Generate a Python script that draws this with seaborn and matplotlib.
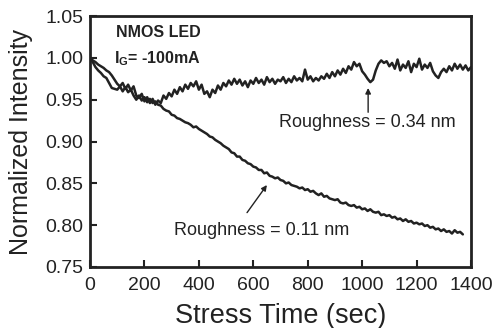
import matplotlib
matplotlib.use("Agg")
import matplotlib.pyplot as plt
import seaborn as sns

#####----- DATA
# Roughness = 0.34 nm, sampled every 10 s from 0 to 1400 s
intensity_034 = [
    1.000, 0.997, 0.995, 0.992, 0.990, 0.988, 0.985, 0.983, 0.979, 0.974,
    0.969, 0.966, 0.970, 0.963, 0.968, 0.961, 0.966, 0.955, 0.952, 0.957,
    0.948, 0.953, 0.946, 0.951, 0.944, 0.949, 0.946, 0.955, 0.951, 0.958,
    0.954, 0.962, 0.957, 0.965, 0.960, 0.968, 0.963, 0.970, 0.966, 0.972,
    0.962, 0.968, 0.957, 0.960, 0.953, 0.962, 0.958, 0.967, 0.962, 0.970,
    0.966, 0.973, 0.968, 0.975, 0.969, 0.974, 0.967, 0.972, 0.965, 0.973,
    0.969, 0.976, 0.970, 0.974, 0.968, 0.977, 0.971, 0.975, 0.969, 0.974,
    0.972, 0.977, 0.970, 0.975, 0.971, 0.978, 0.973, 0.976, 0.972, 0.986,
    0.974, 0.978, 0.972, 0.976, 0.973, 0.978, 0.975, 0.981, 0.976, 0.983,
    0.978, 0.985, 0.980, 0.987, 0.982, 0.990, 0.986, 0.995, 0.990, 0.993,
    0.984, 0.980, 0.975, 0.971, 0.974, 0.985, 0.993, 0.997, 0.994, 0.996,
    0.990, 0.994, 0.987, 0.998, 0.985, 0.992, 0.988, 0.996, 0.983, 0.993,
    0.989, 0.999, 0.986, 0.992, 0.988, 0.994, 0.984, 0.979, 0.976, 0.983,
    0.987, 0.983, 0.990, 0.985, 0.993, 0.987, 0.992, 0.986, 0.991, 0.985,
    0.989,
]
time_034 = list(range(0, 1410, 10))

# Roughness = 0.11 nm, sampled every 10 s from 0 to 1370 s
intensity_011 = [
    1.000, 0.995, 0.989, 0.985, 0.982, 0.978, 0.976, 0.970, 0.964, 0.963,
    0.962, 0.966, 0.960, 0.965, 0.959, 0.962, 0.955, 0.950, 0.955, 0.949,
    0.953, 0.947, 0.951, 0.946, 0.948, 0.944, 0.943, 0.939, 0.937, 0.936,
    0.932, 0.931, 0.928, 0.927, 0.925, 0.923, 0.922, 0.920, 0.917, 0.918,
    0.915, 0.913, 0.911, 0.909, 0.906, 0.905, 0.902, 0.900, 0.898, 0.895,
    0.893, 0.891, 0.887, 0.886, 0.882, 0.882, 0.878, 0.877, 0.874, 0.873,
    0.870, 0.869, 0.866, 0.866, 0.862, 0.863, 0.859, 0.858, 0.856, 0.857,
    0.854, 0.853, 0.850, 0.851, 0.848, 0.847, 0.846, 0.844, 0.845, 0.842,
    0.843, 0.840, 0.841, 0.838, 0.836, 0.838, 0.834, 0.835, 0.832, 0.831,
    0.830, 0.831, 0.827, 0.826, 0.827, 0.824, 0.823, 0.824, 0.821, 0.822,
    0.819, 0.820, 0.817, 0.819, 0.816, 0.815, 0.816, 0.812, 0.813, 0.811,
    0.812, 0.809, 0.810, 0.807, 0.808, 0.805, 0.807, 0.804, 0.805, 0.802,
    0.803, 0.801, 0.802, 0.799, 0.800, 0.797, 0.798, 0.795, 0.796, 0.793,
    0.795, 0.792, 0.793, 0.790, 0.794, 0.791, 0.792, 0.789,
]
time_011 = list(range(0, 1380, 10))

x_ticks = [0, 200, 400, 600, 800, 1000, 1200, 1400]
y_ticks = [0.75, 0.80, 0.85, 0.90, 0.95, 1.00, 1.05]

#####----- PLOT
sns.set_style("ticks")
plt.rcParams['font.family'] = ['Liberation Sans', 'DejaVu Sans']
plt.rcParams['mathtext.fontset'] = 'custom'
plt.rcParams['mathtext.rm'] = 'Liberation Sans:bold'

ink = '#222222'
fig, ax = plt.subplots(figsize=(4.96, 3.28), dpi=100)
fig.subplots_adjust(left=0.1815, right=0.9496, bottom=0.186, top=0.951)

sns.lineplot(x=time_034, y=intensity_034, color=ink, linewidth=1.8, ax=ax)
sns.lineplot(x=time_011, y=intensity_011, color=ink, linewidth=1.8, ax=ax)

ax.set_xlim(0, 1400)
ax.set_ylim(0.75, 1.05)
ax.set_xticks(x_ticks)
ax.set_yticks(y_ticks)
ax.set_yticklabels([f"{v:.2f}" for v in y_ticks])
ax.tick_params(direction='in', length=5, width=1.5, labelsize=14, colors=ink)
ax.tick_params(axis='x', pad=7)
ax.tick_params(axis='y', pad=5)
for side in ax.spines.values():
    side.set_linewidth(2)
    side.set_color(ink)

ax.set_xlabel('Stress Time (sec)', fontsize=19.5, labelpad=7, color=ink)
ax.set_ylabel('Normalized Intensity', fontsize=18, labelpad=9, color=ink)

ax.text(96, 1.030, 'NMOS LED', fontsize=11.5, fontweight='bold', va='center', color=ink)
ax.text(88, 0.999, r'I$_\mathrm{G}$= -100mA', fontsize=11.5, fontweight='bold', va='center', color=ink)

ax.text(1018, 0.923, 'Roughness = 0.34 nm', fontsize=13, ha='center', va='center', color=ink)
ax.annotate('', xy=(1022, 0.964), xytext=(1022, 0.935),
            arrowprops=dict(arrowstyle='-|>', color=ink, lw=1, mutation_scale=8,
                            shrinkA=0, shrinkB=0))
ax.text(632, 0.794, 'Roughness = 0.11 nm', fontsize=13, ha='center', va='center', color=ink)
ax.annotate('', xy=(650, 0.848), xytext=(577, 0.815),
            arrowprops=dict(arrowstyle='-|>', color=ink, lw=1, mutation_scale=8,
                            shrinkA=0, shrinkB=0))

fig.savefig('out.png', dpi=100)
